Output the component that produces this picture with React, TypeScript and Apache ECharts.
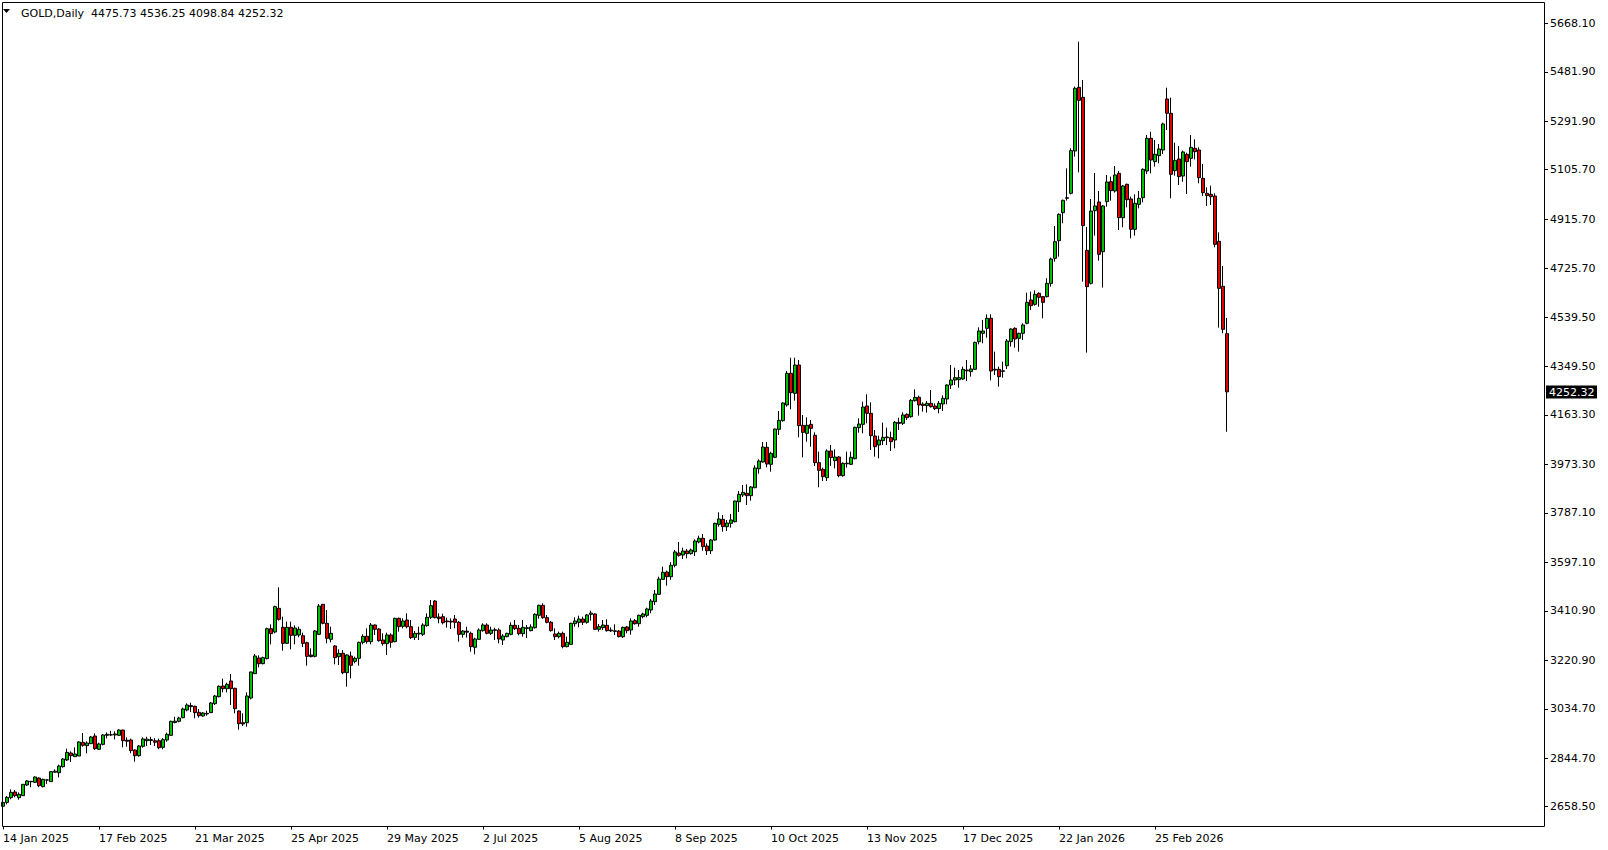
import React, { useEffect, useRef } from "react";
import * as echarts from "echarts";

// ---- Daily GOLD candles (14 Jan 2025 .. 23 Mar 2026) ----
const opens = [
  2660, 2675, 2693, 2715, 2693.2, 2700.9, 2741.9, 2754, 2752, 2768.7,
  2735.5, 2760.8, 2754.7, 2791, 2789.2, 2812.3, 2837.9, 2864.8, 2850.7, 2853.2,
  2905.8, 2893, 2900.6, 2930, 2878.9, 2898, 2932.7, 2935, 2934, 2932.7,
  2953, 2914, 2914.7, 2876.3, 2854.5, 2890.4, 2912, 2916, 2912, 2912,
  2886.6, 2914.7, 2932.6, 2982, 2986.4, 3000.5, 3030, 3047, 3044, 3021,
  3006.9, 3017, 3019.7, 3054.3, 3081.2, 3122.2, 3111.9, 3141.4, 3113.2, 3026.1,
  2981.3, 2981.3, 3076, 3169.6, 3229.8, 3208, 3227.2, 3342.4, 3329.6, 3420.6,
  3347.6, 3286, 3347.6, 3316.8, 3318, 3315.5, 3288.6, 3241, 3236.1, 3320.7,
  3435.9, 3362.9, 3301.5, 3275.9, 3234.9, 3247.7, 3173.4, 3237.4, 3216.9, 3228.5,
  3290, 3313, 3292.5, 3356.5, 3341.2, 3298.9, 3284.8, 3318.1, 3292.5, 3382.1,
  3351.4, 3375.7, 3350.1, 3309.1, 3322, 3320.7, 3354, 3386, 3448.7, 3387.3,
  3388.5, 3372, 3371, 3379.6, 3366.8, 3320.7, 3333, 3324.5, 3270.7, 3301.5,
  3334.8, 3356.5, 3324.5, 3338, 3337.3, 3298.9, 3311.7, 3320.7, 3355.2, 3343.7,
  3323.2, 3343, 3334.8, 3346.3, 3393.7, 3432.1, 3384.7, 3366.8, 3322, 3311.7,
  3324.5, 3273.3, 3282.2, 3361.6, 3366.8, 3379.6, 3366.8, 3397.5, 3398.8, 3339.9,
  3346.3, 3355.2, 3337, 3334, 3333.5, 3311.7, 3348.9, 3337.3, 3373.2, 3361.6,
  3388.5, 3393.7, 3414.2, 3446.2, 3474.4, 3531.9, 3560.1, 3542, 3586, 3633.1,
  3625.4, 3640.8, 3630.6, 3638.2, 3675.4, 3689.5, 3660, 3642, 3683, 3743.3,
  3762.5, 3734.3, 3747.1, 3753.5, 3830.3, 3856, 3862.4, 3853.4, 3884.1, 3957.1,
  3982.7, 4039, 3973.8, 4000.7, 4108.2, 4141.5, 4201.7, 4323.4, 4246.5, 4355.4,
  4123.6, 4092.9, 4127.4, 4085.2, 3980.2, 3954.5, 3922.5, 4025, 3987.9, 4002,
  3930.2, 3978, 3973.8, 3995.5, 4114.6, 4127.4, 4197.9, 4169.7, 4082.6, 4048,
  4064.7, 4076, 4076.2, 4067.2, 4135, 4131.3, 4165.8, 4156.9, 4218.3, 4231.1,
  4205, 4199.2, 4208.1, 4197.9, 4187.6, 4205.6, 4224.8, 4278.5, 4297.8, 4299,
  4301.6, 4336, 4329.8, 4338.7, 4445, 4477, 4496.3, 4534.7, 4339, 4338.7,
  4331, 4352.8, 4445, 4496.3, 4457.9, 4477.1, 4515.5, 4605.1, 4588.5, 4630.7,
  4617.9, 4617.9, 4669.1, 4765.2, 4833.1, 4940.6, 4996, 5014.9, 5177.6, 5422.1,
  5383.7, 4795.9, 4669.1, 4948.3, 4981.6, 4790.8, 4982.9, 5059.7, 5023.9, 5091.7,
  4921.4, 5049.5, 4993.1, 4876.6, 4972.6, 4998.2, 5100.7, 5226.2, 5136.6, 5159.6,
  5181.4, 5377.3, 5322.2, 5102, 5146.8, 5081.5, 5164.7, 5149.4, 5187.8, 5181.4,
  5072.5, 5015, 5011, 5004.6, 4830.5, 4657.6, 4475.73,
];
const highs = [
  2678, 2699.6, 2725.2, 2722.6, 2713.7, 2745.7, 2761, 2756.5, 2775, 2771,
  2766, 2765, 2795.6, 2802, 2820, 2845.6, 2881.4, 2871, 2886.5, 2909.6,
  2941.6, 2909.6, 2930, 2940.3, 2904.5, 2937.8, 2944, 2950, 2948, 2955.7,
  2954.4, 2925, 2920, 2879, 2895.5, 2925, 2927, 2927, 2922, 2920,
  2922, 2943, 2989, 3004, 3004.3, 3039, 3055.6, 3058, 3046.6, 3033.8,
  3022.3, 3027.4, 3060.7, 3087.6, 3124.7, 3150.4, 3135, 3168.3, 3115.8, 3028.7,
  3017.2, 3097.8, 3177.3, 3245.1, 3240, 3234.9, 3346.3, 3359, 3430.8, 3501.2,
  3388.5, 3369.3, 3369.3, 3355.2, 3350, 3327, 3292.5, 3266.9, 3337.3, 3437.2,
  3437.2, 3414, 3350, 3279.7, 3263, 3260.5, 3243.8, 3254.1, 3234.9, 3292.5,
  3320.7, 3343.7, 3364.2, 3359, 3343.7, 3324.5, 3327, 3324.5, 3384.7, 3384.7,
  3382, 3401.4, 3375.7, 3333.5, 3350, 3363, 3401.4, 3452.6, 3452.6, 3401.4,
  3400, 3384.7, 3382, 3395, 3371.9, 3337.3, 3350, 3330.9, 3307.9, 3343.7,
  3363, 3363, 3350, 3346, 3343.7, 3321.9, 3327, 3366.8, 3375.7, 3356.5,
  3375.7, 3356.5, 3359.1, 3401.4, 3434.6, 3439.8, 3395, 3371.9, 3343.7, 3331,
  3331, 3311.7, 3365.5, 3386, 3392.4, 3388.5, 3398.8, 3411.6, 3401.4, 3360.4,
  3375.7, 3378.3, 3347.6, 3359.1, 3337.3, 3350.1, 3352.7, 3382.1, 3379.6, 3396.2,
  3403.9, 3423.1, 3456.4, 3491, 3542.2, 3580.6, 3565.3, 3598, 3644.6, 3675.4,
  3653.6, 3648.5, 3649.8, 3685.6, 3699.7, 3706.1, 3670.2, 3686.9, 3749.7, 3789.4,
  3779.1, 3759.9, 3783, 3834.2, 3871.3, 3894.4, 3897, 3890.5, 3970, 3993,
  4059.5, 4059.5, 4022.4, 4110.8, 4178.6, 4212, 4332.3, 4383.5, 4383.5, 4374.6,
  4163.3, 4154.3, 4144.1, 4096.7, 4022.4, 3961, 4031.4, 4048, 4031.4, 4005.8,
  3981.4, 4022.4, 4022.4, 4118.5, 4150.5, 4214.5, 4242.7, 4212, 4105.7, 4083.9,
  4133.9, 4114.6, 4099.3, 4140.3, 4153, 4173.5, 4169.7, 4224.8, 4261.9, 4237.5,
  4211.9, 4217, 4259.3, 4208.1, 4217, 4238.8, 4281.1, 4355.4, 4345.2, 4336.2,
  4349, 4374.6, 4355.4, 4445, 4500.1, 4528.3, 4550, 4550, 4406.6, 4349,
  4368.2, 4455.3, 4496.3, 4500.1, 4479.6, 4515.5, 4633.3, 4637.1, 4642.2, 4634.6,
  4620.5, 4688.4, 4767.7, 4889.4, 4938.1, 4990.6, 5110.9, 5187.8, 5424.7, 5597.6,
  5450.3, 4885.6, 4993.2, 5093, 5023.9, 4970.1, 5085.3, 5079, 5119.8, 5100.7,
  5047, 5052.1, 5002.1, 5011, 5023.9, 5110.9, 5239, 5251.8, 5219.8, 5204.5,
  5286.4, 5420.8, 5382.4, 5209.5, 5196.8, 5178.8, 5171.1, 5239, 5222.3, 5191.6,
  5127.6, 5038, 5044.4, 5014.9, 4865, 4735.7, 4536.25,
];
const lows = [
  2656, 2667.6, 2686.8, 2694.5, 2685.5, 2699.6, 2738, 2733, 2749.5, 2733,
  2733, 2745.7, 2754, 2789, 2771, 2808.4, 2834, 2830.2, 2850.7, 2853.2,
  2889.1, 2863.5, 2899.4, 2876.3, 2876.3, 2894, 2921, 2930, 2917, 2930,
  2886.6, 2889, 2863.5, 2831.5, 2850.7, 2885.3, 2891.7, 2895.5, 2891.7, 2879,
  2879, 2908, 2931.4, 2978.7, 2982.6, 2998, 3024.8, 3022, 2998, 3000.5,
  3004.4, 3008.2, 3018.4, 3049.2, 3078.6, 3097.8, 3097.8, 3049.2, 3017.2, 2954.4,
  2968.5, 2966, 3071, 3168.3, 3193.9, 3205.4, 3224.6, 3282.2, 3324.5, 3373.2,
  3257.9, 3283.5, 3263, 3282.2, 3309.1, 3272, 3200.3, 3232.3, 3232.3, 3318.1,
  3359.1, 3286, 3290, 3205.4, 3202.9, 3167, 3119.6, 3151.6, 3209.3, 3200.3,
  3282.2, 3284.8, 3282.2, 3318.1, 3292.5, 3277.1, 3241.3, 3269.4, 3290, 3330.9,
  3343.7, 3343.7, 3302.7, 3298.9, 3298.9, 3314.3, 3350.1, 3379.6, 3382.1, 3363,
  3359.1, 3346.3, 3341.2, 3343.7, 3292.5, 3307.9, 3307.9, 3254.1, 3243.8, 3298.9,
  3330.9, 3320.7, 3318.1, 3298.9, 3286, 3279.7, 3309.1, 3316.8, 3337.3, 3316.8,
  3311.7, 3306.6, 3332.2, 3342.4, 3380.8, 3380.8, 3362.9, 3330.9, 3298.9, 3305.3,
  3266.9, 3270.7, 3279.7, 3350.1, 3347.6, 3356.5, 3361.6, 3373.2, 3337.3, 3330.9,
  3337.3, 3330.9, 3329.6, 3318.1, 3309.1, 3306.6, 3324.5, 3319.4, 3357.8, 3350.1,
  3382.1, 3386, 3401.4, 3433.4, 3471.8, 3529.4, 3507.7, 3530, 3578, 3619,
  3610.1, 3612.6, 3626.7, 3621.6, 3670.2, 3642, 3625.4, 3629.3, 3680.5, 3734.3,
  3715.1, 3717.6, 3730.4, 3750.9, 3790.6, 3848.3, 3817.5, 3834.2, 3881.6, 3937.9,
  3980.2, 3962.2, 3945.6, 3998.1, 4086.4, 4137.7, 4195.3, 4185.1, 4218.3, 4077.5,
  4000.7, 4060.8, 4041.6, 3967.4, 3885.4, 3909.7, 3909.7, 3967.4, 3958.4, 3923.8,
  3926.4, 3961, 3971.2, 3993, 4095.4, 4092.9, 4131.3, 4028.8, 4003.2, 3996.8,
  4048, 4048, 4025, 4035.2, 4105.7, 4124.9, 4144.1, 4153, 4214.5, 4160.8,
  4176.1, 4172.3, 4191.5, 4182.5, 4169.7, 4178.7, 4204.3, 4263.2, 4278.5, 4268.3,
  4297.8, 4294, 4310.6, 4336.2, 4434.8, 4438.6, 4460.4, 4296.5, 4317, 4272.2,
  4306.7, 4340, 4425.8, 4422, 4406.6, 4451.4, 4511.7, 4566.7, 4583.3, 4579.5,
  4534.7, 4615, 4656.4, 4752.4, 4771.6, 4899.7, 4986.8, 5011, 5155.8, 5095.6,
  4675.6, 4402.8, 4665, 4852.3, 4756.2, 4652.6, 4963.7, 4986.7, 5017.5, 4874,
  4884.3, 4961.1, 4842, 4852.3, 4957.3, 4980.3, 5089.1, 5091.7, 5117.3, 5130.2,
  5166, 5258.2, 4995.7, 5082.8, 5046.9, 5059.7, 5012.3, 5117.3, 5145.5, 5053.3,
  5004.7, 4966.3, 4970.1, 4807.5, 4498.8, 4477.1, 4098.84,
];
const closes = [
  2675, 2694.5, 2713.7, 2700.9, 2706, 2744.4, 2757.2, 2756, 2772.6, 2739.3,
  2763.6, 2761.5, 2793.1, 2795, 2814.8, 2841.7, 2867.3, 2854.5, 2860.9, 2907.1,
  2894.2, 2903.2, 2926.3, 2881.4, 2899.4, 2934, 2936.5, 2934, 2938, 2953,
  2912, 2910, 2873.8, 2854.5, 2891.7, 2918.6, 2918, 2913, 2906, 2885,
  2916, 2936.5, 2986.4, 2987, 2999.2, 3033.8, 3049.2, 3043, 3019.7, 3008.2,
  3018.4, 3015, 3056.9, 3083.7, 3120.9, 3111.9, 3128.6, 3111.9, 3035.1, 2977.5,
  2976.2, 3083.7, 3176, 3237.4, 3208, 3231, 3342.4, 3323.2, 3427, 3378.3,
  3286, 3347.6, 3316.8, 3345, 3339.9, 3286, 3236.1, 3235, 3333.5, 3429.5,
  3362.9, 3305.3, 3324.5, 3231, 3247.7, 3173.4, 3241.3, 3201.6, 3228.5, 3290,
  3313, 3292.5, 3356.5, 3340, 3296.3, 3284.8, 3318.1, 3290, 3382.1, 3350.1,
  3371.9, 3350.1, 3307.9, 3324.5, 3325, 3356.5, 3386, 3430.8, 3384.7, 3380.8,
  3365.5, 3369, 3368, 3366.8, 3320.7, 3333.5, 3329, 3273.3, 3302.7, 3337.3,
  3356.5, 3324.5, 3337.3, 3336, 3302.7, 3314.3, 3324.5, 3355.2, 3342.4, 3323.2,
  3347.6, 3346, 3348.9, 3397.5, 3432.1, 3384.7, 3366.8, 3334.8, 3311.7, 3324.5,
  3273.3, 3290, 3362.9, 3371.9, 3379.6, 3366.8, 3395, 3402.6, 3339.9, 3350.1,
  3356.5, 3334.8, 3334, 3332, 3311.7, 3347.6, 3334.8, 3371.9, 3361.6, 3393.7,
  3398.8, 3418, 3448.7, 3475.6, 3533.2, 3558.9, 3542.2, 3586, 3637, 3624.2,
  3640.8, 3630.6, 3644.6, 3679.2, 3689.5, 3657.5, 3642, 3683, 3747.1, 3763.8,
  3734.3, 3748.4, 3759.9, 3832.9, 3858.5, 3866.2, 3853.4, 3886.7, 3959.7, 3986.6,
  4040.3, 3975, 4016, 4109.5, 4142.8, 4209.4, 4323.4, 4249.1, 4355.4, 4122.3,
  4096.7, 4123.6, 4112, 3980.2, 3950.7, 3926.4, 4025, 3999.4, 4001.9, 3930.2,
  3977.6, 3976, 4000.7, 4115.9, 4128.7, 4194, 4169.7, 4083.9, 4041.6, 4067.2,
  4077.5, 4078.8, 4060.8, 4135.1, 4131, 4163.3, 4153, 4219.6, 4231.1, 4201.7,
  4200, 4208.1, 4195.3, 4187.6, 4208.1, 4227.3, 4278.5, 4297.8, 4306.7, 4306.7,
  4338.7, 4333, 4340, 4442.5, 4486, 4486, 4534.7, 4332.3, 4336, 4310.6,
  4333, 4447.6, 4493.7, 4455.3, 4477.1, 4509.1, 4596.1, 4583.3, 4626.9, 4615.4,
  4596.1, 4669.1, 4762.6, 4829.2, 4934.2, 4988, 4998, 5178.9, 5418.3, 5372.2,
  4890.7, 4656.4, 4947.1, 4966.3, 4780.6, 4966.3, 5058.5, 5025.2, 5085.3, 4921.4,
  5043.1, 4990.6, 4876.6, 4976.5, 4995.7, 5107.1, 5226.2, 5143, 5164.8, 5185.2,
  5281.3, 5322.3, 5087.9, 5141.6, 5079, 5173.7, 5136.6, 5191.6, 5175, 5075.1,
  5017.5, 5006, 5002, 4819, 4649.9, 4492.4, 4252.32,
];

// ---- axis ticks ----
const yTickValues = [
  5668.1, 5481.9, 5291.9, 5105.7, 4915.7, 4725.7, 4539.5, 4349.5, 4163.3,
  3973.3, 3787.1, 3597.1, 3410.9, 3220.9, 3034.7, 2844.7, 2658.5,
];
const CLOSED_DAYS = ["2025-04-18", "2025-12-25", "2026-01-01"];
const MONTHS = ["Jan", "Feb", "Mar", "Apr", "May", "Jun", "Jul", "Aug", "Sep", "Oct", "Nov", "Dec"];
const X_LABEL_EVERY = 24;
const TOTAL_SLOTS = 386; // includes the empty right-hand shift area

function buildTradingDays(count: number): string[] {
  const out: string[] = [];
  const d = new Date(Date.UTC(2025, 0, 14));
  while (out.length < count) {
    const dow = d.getUTCDay();
    const iso = d.toISOString().slice(0, 10);
    if (dow !== 0 && dow !== 6 && !CLOSED_DAYS.includes(iso)) {
      out.push(`${d.getUTCDate()} ${MONTHS[d.getUTCMonth()]} ${d.getUTCFullYear()}`);
    }
    d.setUTCDate(d.getUTCDate() + 1);
  }
  return out;
}

const FONT = '"DejaVu Sans", Verdana, sans-serif';
const BULL = "#00c000";
const BEAR = "#e00000";

export default function App() {
  const ref = useRef<HTMLDivElement>(null);

  useEffect(() => {
    if (!ref.current) return;
    const chart = echarts.init(ref.current, undefined, { renderer: "svg" });
    const n = closes.length;
    const categories = buildTradingDays(TOTAL_SLOTS);
    const candles = opens.map((o, i) => [o, closes[i], lows[i], highs[i]]);
    const last = n - 1;
    const header = `GOLD,Daily  ${opens[last].toFixed(2)} ${highs[last].toFixed(2)} ${lows[last].toFixed(2)} ${closes[last].toFixed(2)}`;
    const showX = (idx: number) => idx % X_LABEL_EVERY === 0 && idx < n;

    chart.setOption({
      animation: false,
      backgroundColor: "#ffffff",
      grid: { left: 1, top: 2.5, width: 1544, height: 824, show: false },
      xAxis: {
        type: "category",
        data: categories,
        boundaryGap: true,
        axisLine: { show: false },
        axisTick: {
          show: true,
          interval: showX,
          alignWithLabel: true,
          length: 3,
          lineStyle: { color: "#000", width: 1 },
        },
        axisLabel: {
          interval: showX,
          align: "left",
          margin: 6,
          color: "#000",
          fontFamily: FONT,
          fontSize: 11,
        },
        splitLine: { show: false },
      },
      yAxis: {
        type: "value",
        position: "right",
        min: 2582.4,
        max: 5748.0,
        scale: true,
        axisLine: { show: false },
        axisTick: {
          show: true,
          customValues: yTickValues,
          length: 3,
          lineStyle: { color: "#000", width: 1 },
        },
        axisLabel: {
          customValues: yTickValues,
          formatter: (v: number) => v.toFixed(2),
          margin: 5,
          color: "#000",
          fontFamily: FONT,
          fontSize: 11,
        },
        splitLine: { show: false },
      },
      series: [
        {
          type: "candlestick",
          data: candles,
          barWidth: 3,
          itemStyle: {
            color: BULL,
            color0: BEAR,
            borderColor: "#000",
            borderColor0: "#000",
            borderWidth: 1,
          },
        },
      ],
    });

    // current-price box on the price scale, placed through the axis scale
    const priceY = chart.convertToPixel({ yAxisIndex: 0 }, closes[last]) as number;
    const priceText = closes[last].toFixed(2);

    chart.setOption({
      graphic: [
        {
          type: "rect",
          silent: true,
          z: 10,
          shape: { x: 2.5, y: 2.5, width: 1542, height: 824 },
          style: { fill: "none", stroke: "#000", lineWidth: 1 },
        },
        {
          type: "polygon",
          silent: true,
          z: 11,
          shape: { points: [[3, 9], [10, 9], [6.5, 13]] },
          style: { fill: "#000" },
        },
        {
          type: "text",
          silent: true,
          z: 11,
          x: 21,
          y: 13.5,
          style: {
            text: header,
            fill: "#000",
            font: `11px ${FONT}`,
            verticalAlign: "middle",
          },
        },
        {
          type: "rect",
          silent: true,
          z: 12,
          shape: { x: 1546, y: Math.round(priceY) - 6.5, width: 51, height: 13 },
          style: { fill: "#000" },
        },
        {
          type: "text",
          silent: true,
          z: 13,
          x: 1549,
          y: Math.round(priceY),
          style: {
            text: priceText,
            fill: "#fff",
            font: `11px ${FONT}`,
            verticalAlign: "middle",
          },
        },
      ],
    });

    return () => chart.dispose();
  }, []);

  return (
    <div
      ref={ref}
      style={{ position: "fixed", left: 0, top: 0, width: 1608, height: 850, background: "#fff" }}
    />
  );
}
